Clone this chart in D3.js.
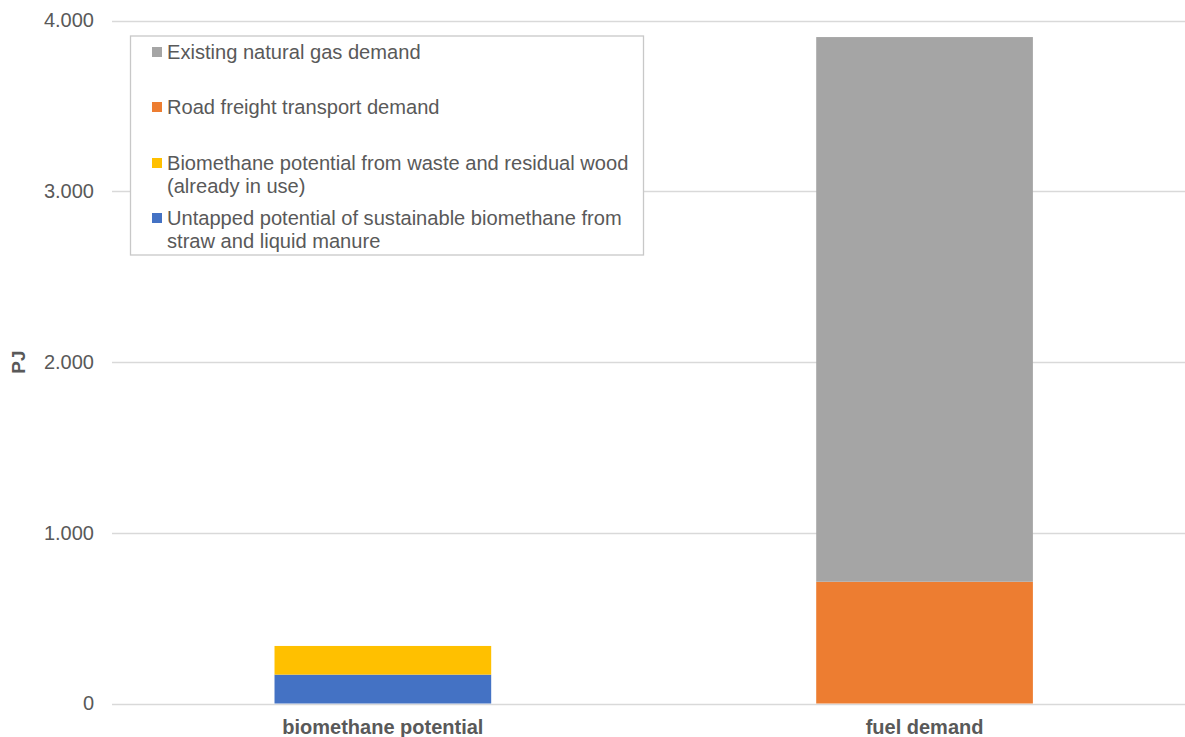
<!DOCTYPE html>
<html><head><meta charset="utf-8">
<script src="https://cdn.jsdelivr.net/npm/d3@7"></script>
<style>body{margin:0;background:#fff}svg{display:block;font-family:"Liberation Sans",Arial,sans-serif}</style>
</head><body><svg id="c" width="1185" height="737"></svg>
<script>
const categories = ["biomethane potential", "fuel demand"];
const seriesNames = [
  "Untapped potential of sustainable biomethane from straw and liquid manure",
  "Biomethane potential from waste and residual wood (already in use)",
  "Road freight transport demand",
  "Existing natural gas demand"
];
const untapped = [169, 0];
const wasteWood = [168, 0];
const roadFreight = [0, 713];
const naturalGas = [0, 3190];
const yTicks = [0, 1000, 2000, 3000, 4000];
const colors = ["#4472C4", "#FFC000", "#ED7D31", "#A5A5A5"];
const legendLines = [
  ["Existing natural gas demand"],
  ["Road freight transport demand"],
  ["Biomethane potential from waste and residual wood", "(already in use)"],
  ["Untapped potential of sustainable biomethane from", "straw and liquid manure"]
];
const legendColorIdx = [3, 2, 1, 0];

const svg = d3.select("#c");
const x = d3.scaleBand().domain(categories).range([112, 1195.4]).paddingInner(0.6).paddingOuter(0.3);
const y = d3.scaleLinear().domain([0, 4000]).range([703.5, 20.5]);
const fmt = v => v === 0 ? "0" : d3.format(",")(v).replace(/,/g, ".");

// gridlines
svg.append("g").selectAll("line").data(yTicks).join("line")
  .attr("x1", 112).attr("x2", 1185)
  .attr("y1", d => Math.round(y(d)) + 0.5).attr("y2", d => Math.round(y(d)) + 0.5)
  .attr("stroke", "#d9d9d9").attr("stroke-width", 1.3);

// y axis labels
const yAxis = d3.axisLeft(y).tickValues(yTicks).tickFormat(fmt).tickSize(0).tickPadding(0);
const ga = svg.append("g").attr("transform", "translate(94,0)").call(yAxis);
ga.select(".domain").remove();
ga.selectAll("text").attr("font-size", 20).attr("fill", "#595959").attr("font-family", "Liberation Sans, Arial, sans-serif");

// stacked bars
const rows = categories.map((c, i) => ({cat: c, s0: untapped[i], s1: wasteWood[i], s2: roadFreight[i], s3: naturalGas[i]}));
const stack = d3.stack().keys(["s0", "s1", "s2", "s3"])(rows);
stack.forEach((layer, k) => {
  svg.append("g").attr("fill", colors[k]).selectAll("rect").data(layer.filter(d => d[1] > d[0])).join("rect")
    .attr("x", d => x(d.data.cat)).attr("width", x.bandwidth())
    .attr("y", d => y(d[1])).attr("height", d => y(d[0]) - y(d[1]));
});

// category labels
svg.append("g").selectAll("text").data(categories).join("text")
  .attr("x", d => x(d) + x.bandwidth() / 2).attr("y", 734)
  .attr("text-anchor", "middle").attr("font-size", 20).attr("font-weight", "bold").attr("fill", "#595959")
  .text(d => d);

// y title
svg.append("text").attr("transform", "translate(25,362) rotate(-90)")
  .attr("text-anchor", "middle").attr("font-size", 19).attr("font-weight", "bold").attr("fill", "#595959").text("PJ");

// legend
const lg = svg.append("g");
lg.append("rect").attr("x", 130.5).attr("y", 36).attr("width", 513).attr("height", 219)
  .attr("fill", "#fff").attr("stroke", "#c8c8c8").attr("stroke-width", 1.3);
const firstLineY = [52, 107, 163, 218];
legendLines.forEach((lines, i) => {
  lg.append("rect").attr("x", 152).attr("y", firstLineY[i] - 5).attr("width", 10).attr("height", 10)
    .attr("fill", colors[legendColorIdx[i]]);
  lines.forEach((t, j) => {
    lg.append("text").attr("x", 167).attr("y", firstLineY[i] + j * 23).attr("dy", "0.35em")
      .attr("font-size", 20.1).attr("fill", "#595959").text(t);
  });
});
</script></body></html>
